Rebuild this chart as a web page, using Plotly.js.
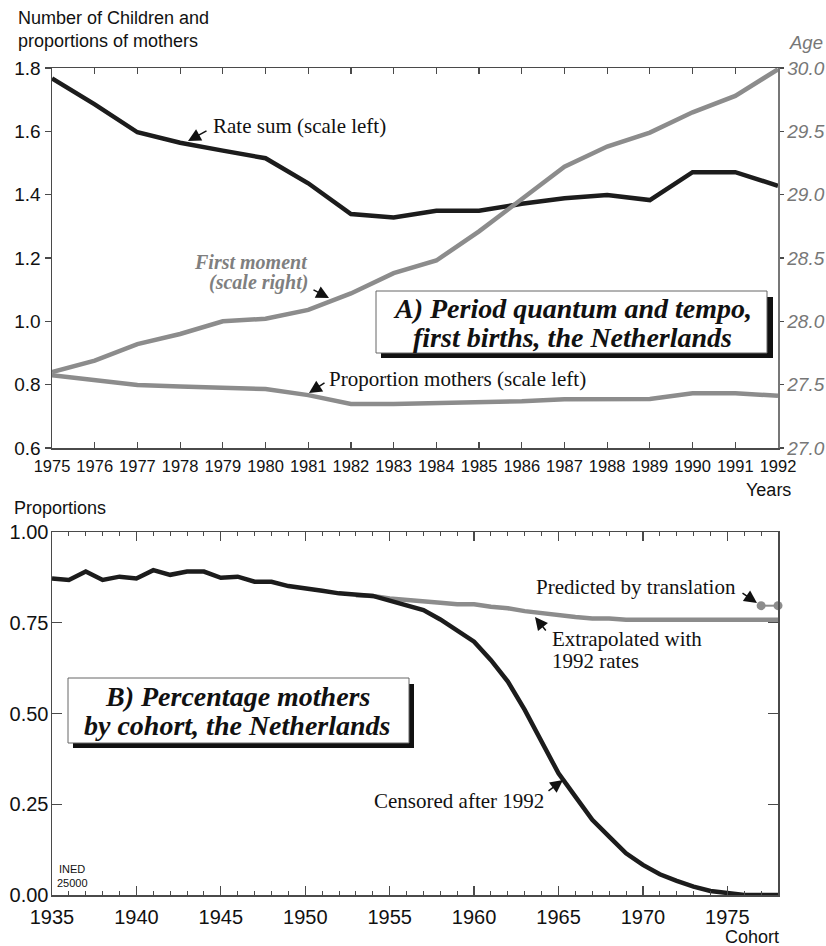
<!DOCTYPE html>
<html>
<head>
<meta charset="utf-8">
<script src="https://cdn.plot.ly/plotly-3.0.1.min.js"></script>
<style>html,body{margin:0;padding:0;background:#fff;}#chart{width:826px;height:946px;}</style>
</head>
<body>
<div id="chart"></div>
<script>
// ---- Data ----
const years = [1975,1976,1977,1978,1979,1980,1981,1982,1983,1984,1985,1986,1987,1988,1989,1990,1991,1992];
const rateSum = [1.767,1.685,1.597,1.564,1.539,1.515,1.436,1.339,1.328,1.349,1.349,1.371,1.389,1.399,1.383,1.471,1.471,1.428];
const firstMoment = [27.60,27.69,27.82,27.90,28.00,28.02,28.09,28.22,28.38,28.48,28.71,28.96,29.22,29.38,29.49,29.65,29.78,29.99];
const propMothers = [0.830,0.815,0.799,0.794,0.790,0.786,0.767,0.739,0.739,0.741,0.743,0.748,0.754,0.754,0.755,0.773,0.773,0.765];

const cohorts = [1935,1936,1937,1938,1939,1940,1941,1942,1943,1944,1945,1946,1947,1948,1949,1950,1951,1952,1953,1954,1955,1956,1957,1958,1959,1960,1961,1962,1963,1964,1965,1966,1967,1968,1969,1970,1971,1972,1973,1974,1975,1976,1977,1978];
const censored = [0.872,0.868,0.891,0.868,0.877,0.872,0.895,0.882,0.891,0.891,
                  0.874,0.877,0.863,0.863,0.851,0.846,0.838,0.831,0.826,0.824,
                  0.811,0.799,0.785,0.759,0.728,0.698,0.647,0.588,0.510,0.422,
                  0.335,0.271,0.207,0.161,0.115,0.083,0.057,0.039,0.023,0.011,
                  0.005,0.000,0.000,0.000];
const extraCohorts = [1953,1954,1955,1956,1957,1958,1959,1960,1961,1962,1963,1964,1965,1966,1967,1968,1969,1970,1971,1972,1973,1974,1975,1976,1977,1978];
const extrapolated = [0.826,0.824,0.817,0.814,0.811,0.805,0.801,0.801,0.794,0.790,0.782,0.776,0.771,0.766,0.762,0.762,0.758,0.758,0.758,0.758,0.758,0.758,0.758,0.758,0.758,0.758];
const predCohorts = [1977,1978];
const predicted = [0.797,0.797];

// ---- Styles ----
const BLACK = '#1c1c1c', GRAY = '#8c8c8c', AXIS = '#4a4a4a';
const SANS = 'Liberation Sans, Arial, sans-serif';
const SERIF = 'Liberation Serif, Times New Roman, serif';

// pixel helpers for decorations (plot frame: x 52..778, y 68..895)
const L=52, R=778, T=68, B=895;
const px = x => (x-L)/(R-L);
const py = y => (B-y)/(B-T);

const traces = [
  {x: years, y: rateSum, xaxis:'x', yaxis:'y', mode:'lines', line:{color:BLACK,width:4.5}, hoverinfo:'skip'},
  {x: years, y: propMothers, xaxis:'x', yaxis:'y', mode:'lines', line:{color:GRAY,width:4.5}, hoverinfo:'skip'},
  {x: years, y: firstMoment, xaxis:'x', yaxis:'y2', mode:'lines', line:{color:GRAY,width:4.5}, hoverinfo:'skip'},
  {x: extraCohorts, y: extrapolated, xaxis:'x2', yaxis:'y3', mode:'lines', line:{color:GRAY,width:4.5}, hoverinfo:'skip'},
  {x: cohorts, y: censored, xaxis:'x2', yaxis:'y3', mode:'lines', line:{color:BLACK,width:4.5}, hoverinfo:'skip'},
  {x: predCohorts, y: predicted, xaxis:'x2', yaxis:'y3', mode:'lines+markers', line:{color:GRAY,width:2},
   marker:{color:GRAY,size:9}, cliponaxis:false, hoverinfo:'skip'}
];

function txt(text, x, y, opts) {
  return Object.assign({xref:'paper', yref:'paper', x:px(x), y:py(y), text:text, showarrow:false,
    xanchor:'left', yanchor:'middle', font:{family:SERIF, size:21, color:'#111'}}, opts||{});
}
function arrow(tipX, tipY, tailX, tailY, color) {
  return {xref:'paper', yref:'paper', x:px(tipX), y:py(tipY), ax:tailX-tipX, ay:tailY-tipY,
    axref:'pixel', ayref:'pixel', text:'', showarrow:true, arrowhead:2, arrowsize:1.7,
    arrowwidth:1.5, arrowcolor:color||'#111', standoff:0, startstandoff:0};
}
const boxFont = {family:SERIF, size:28, color:'#111', weight:'bold', style:'italic'};
const sansTitle = {family:SANS, size:18, color:'#111'};
const momentFont = {family:SERIF, size:20, color:'#7f7f7f', weight:'bold', style:'italic'};

const annotations = [
  // axis titles
  txt('Number of Children and', 16, 18, {font:sansTitle}),
  txt('proportions of mothers', 16, 41, {font:sansTitle}),
  txt('Age', 787, 42, {font:{family:SANS,size:18.5,color:'#777',style:'italic'}}),
  txt('Years', 793, 490, {xanchor:'right', font:sansTitle}),
  txt('Proportions', 12, 508, {font:sansTitle}),
  txt('Cohort', 781, 937, {xanchor:'right', font:sansTitle}),
  txt('INED', 57, 869, {font:{family:SANS,size:11,color:'#111'}}),
  txt('25000', 55, 883, {font:{family:SANS,size:11,color:'#111'}}),
  // series labels
  txt('Rate sum (scale left)', 211, 126),
  arrow(188, 141, 208, 130),
  txt('First moment', 310, 261.5, {xanchor:'right', font:momentFont}),
  txt('(scale right)', 310, 282.5, {xanchor:'right', font:momentFont}),
  arrow(329, 298, 312, 289),
  txt('Proportion mothers (scale left)', 327, 379),
  arrow(309, 393, 326, 382),
  txt('Predicted by translation', 534, 587),
  arrow(757, 603, 741, 592),
  txt('Extrapolated with', 550, 639),
  txt('1992 rates', 550, 661),
  arrow(535, 617, 547, 632),
  txt('Censored after 1992', 372, 801),
  arrow(563, 780, 547, 792),
  // panel titles
  txt('A) Period quantum and tempo,', 572, 308, {xanchor:'center', font:boxFont}),
  txt('first births, the Netherlands', 572, 337, {xanchor:'center', font:boxFont}),
  txt('B) Percentage mothers', 238, 696.5, {xanchor:'center', font:boxFont}),
  txt('by cohort, the Netherlands', 238, 725.5, {xanchor:'center', font:boxFont})
];

function rect(x0,y0,x1,y1,fill,lineColor,lw) {
  return {type:'rect', xref:'paper', yref:'paper', x0:px(x0), x1:px(x1), y0:py(y0), y1:py(y1),
    fillcolor:fill, line:{color:lineColor, width:lw}, layer:'above'};
}
const shapes = [
  rect(381,297,773,358,'#111','#111',0),
  rect(376,291,767,353,'#fff','#666',1),
  rect(73,684,414,748,'#111','#111',0),
  rect(68,678,409,743,'#fff','#666',1)
];

const baseAxis = {showgrid:false, zeroline:false, showline:true, linecolor:AXIS, linewidth:1.5,
  tickcolor:AXIS, tickwidth:1.2, fixedrange:true};

const layout = {
  width:826, height:946,
  margin:{l:52, r:48, t:68, b:51, autoexpand:false},
  paper_bgcolor:'#fff', plot_bgcolor:'#fff',
  showlegend:false,
  xaxis: Object.assign({}, baseAxis, {anchor:'y', range:[1975,1992], tick0:1975, dtick:1,
    ticks:'inside', ticklen:6, mirror:'ticks', tickfont:{family:SANS,size:16.5,color:'#111'},
    ticklabelstandoff:3}),
  yaxis: Object.assign({}, baseAxis, {domain:[py(448),1], anchor:'x', range:[0.6,1.8], tick0:0.6, dtick:0.2,
    tickformat:'.1f', ticks:'outside', ticklen:6, tickfont:{family:SANS,size:19,color:'#111'}}),
  yaxis2: Object.assign({}, baseAxis, {overlaying:'y', side:'right', anchor:'x', range:[27,30], tick0:27, dtick:0.5,
    tickformat:'.1f', ticks:'outside', ticklen:4, linecolor:'#777',
    tickfont:{family:SANS,size:19,color:'#777',style:'italic'}}),
  xaxis2: Object.assign({}, baseAxis, {anchor:'y3', range:[1935,1978], tick0:1935, dtick:5,
    ticks:'inside', ticklen:9, mirror:'ticks',
    minor:{tick0:1935, dtick:1, ticks:'inside', ticklen:4, tickcolor:AXIS, tickwidth:1},
    tickfont:{family:SANS,size:20,color:'#111'}, ticklabelstandoff:3}),
  yaxis3: Object.assign({}, baseAxis, {domain:[0,py(532)], anchor:'x2', range:[0,1], tick0:0, dtick:0.25,
    tickformat:'.2f', ticks:'inside', ticklen:10, mirror:'ticks', ticklabelstandoff:-2,
    tickfont:{family:SANS,size:20,color:'#111'}}),
  annotations: annotations,
  shapes: shapes
};

Plotly.newPlot('chart', traces, layout, {displayModeBar:false, staticPlot:true});
</script>
</body>
</html>
